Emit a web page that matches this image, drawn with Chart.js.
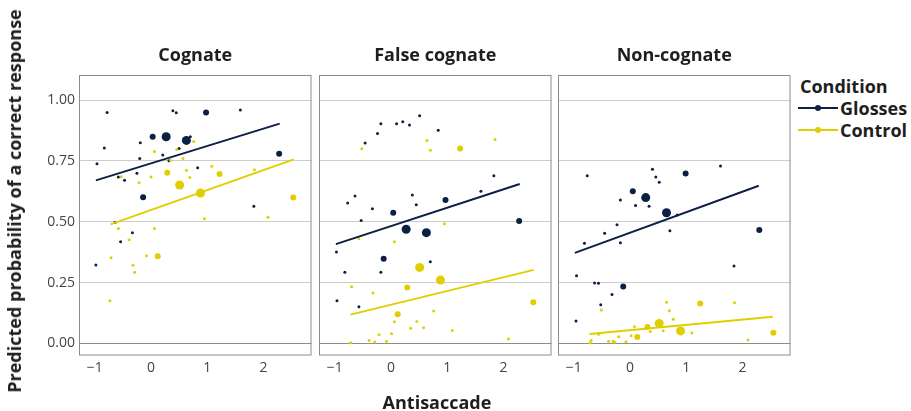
<!DOCTYPE html>
<html>
<head>
<meta charset="utf-8">
<script src="https://cdn.jsdelivr.net/npm/chart.js@4.4.1/dist/chart.umd.min.js"></script>
<style>
  body { margin: 0; background: #fff; }
  #wrap { position: relative; width: 911px; height: 411px; overflow: hidden; font-family: "Open Sans", sans-serif; color: #1e1e1e; }
  canvas { position: absolute; top: 0; }
  .lbl { position: absolute; font-weight: bold; font-size: 18px; line-height: 20px; white-space: nowrap; }
  .key { position: absolute; width: 40px; height: 2px; }
  .key span { position: absolute; left: 17px; top: -2px; width: 6px; height: 6px; border-radius: 50%; }
</style>
</head>
<body>
<div id="wrap">
  <canvas id="p1" width="316" height="411" style="left:0px"></canvas>
  <canvas id="p2" width="257" height="411" style="left:299px"></canvas>
  <canvas id="p3" width="257" height="411" style="left:538px"></canvas>

  <div class="lbl" id="ytitle" style="left:14px; top:201px; transform: translate(-50%, -50%) rotate(-90deg);">Predicted probability of a correct response</div>
  <div class="lbl" style="left:437px; top:392px; transform: translateX(-50%);">Antisaccade</div>

  <div class="lbl" style="left:800px; top:76px;">Condition</div>
  <div class="key" style="left:798px; top:107px; background:#0c2044;"><span style="background:#0c2044"></span></div>
  <div class="lbl" style="left:840px; top:98px;">Glosses</div>
  <div class="key" style="left:798px; top:129px; background:#e0cf00;"><span style="background:#e0cf00"></span></div>
  <div class="lbl" style="left:840px; top:120px;">Control</div>
</div>

<script>
// facet titles
var facets = ['Cognate', 'False cognate', 'Non-cognate'];

// x ranges of the fitted lines
var glossesRange = [-0.98, 2.29];
var controlRange = [-0.72, 2.54];

// Cognate
var cogGlossX = [-0.78,-0.83,-0.96,-0.58,-0.47,-0.25,-0.19,-0.20,0.03,0.27,0.39,0.45,0.21,0.32,0.50,0.63,0.70,0.98,0.83,1.59,2.28,1.83,-0.14,-0.64,-0.33,-0.54,-0.98];
var cogGlossY = [0.949,0.803,0.738,0.684,0.670,0.699,0.825,0.760,0.849,0.849,0.956,0.948,0.774,0.751,0.801,0.834,0.849,0.949,0.722,0.959,0.779,0.563,0.601,0.497,0.455,0.418,0.322];
var cogGlossN = [1,1,1,1,1,1,1,1,4,9,1,1,1,1,1,9,1,4,1,1,4,1,4,1,1,1,1];
var cogCtrlX = [0.76,0.06,0.46,0.35,0.57,-0.53,-0.21,0.00,0.29,0.63,0.69,1.08,1.22,0.51,0.88,1.84,2.53,0.95,2.08,-0.58,0.06,-0.39,-0.71,-0.08,0.12,-0.32,-0.29,-0.73];
var cogCtrlY = [0.830,0.789,0.797,0.753,0.760,0.685,0.660,0.684,0.701,0.711,0.682,0.728,0.696,0.651,0.618,0.714,0.599,0.512,0.518,0.472,0.472,0.426,0.352,0.360,0.358,0.321,0.292,0.175];
var cogCtrlN = [1,1,1,1,1,1,1,1,4,1,1,1,4,9,9,1,4,1,1,1,1,1,1,1,4,1,1,1];
var cogGlossFit = [0.670, 0.903];
var cogCtrlFit = [0.489, 0.756];

// False cognate
var falGlossX = [0.51,-0.18,0.10,0.21,0.33,-0.24,-0.46,0.84,1.83,1.60,0.97,-0.64,-0.77,0.38,0.45,-0.33,0.04,-0.53,2.28,0.27,0.63,-0.97,-0.13,0.70,-0.82,-0.18,-0.96,-0.57];
var falGlossY = [0.935,0.903,0.903,0.911,0.897,0.863,0.823,0.876,0.689,0.625,0.589,0.606,0.577,0.610,0.570,0.553,0.537,0.505,0.503,0.469,0.455,0.375,0.348,0.335,0.292,0.292,0.175,0.150];
var falGlossN = [1,1,1,1,1,1,1,1,1,1,4,1,1,1,1,1,4,1,4,9,9,1,4,1,1,1,1,1];
var falCtrlX = [-0.52,0.64,0.70,1.23,1.85,0.95,-0.57,0.06,0.51,0.88,0.29,-0.70,-0.32,2.53,0.12,0.76,0.06,0.46,0.35,0.58,1.09,-0.21,0.01,-0.39,-0.29,-0.08,-0.72,2.09];
var falCtrlY = [0.800,0.834,0.794,0.801,0.838,0.492,0.430,0.418,0.312,0.260,0.230,0.233,0.207,0.169,0.120,0.133,0.089,0.090,0.062,0.064,0.053,0.035,0.039,0.012,0.005,0.009,0.002,0.018];
var falCtrlN = [1,1,1,4,1,1,1,1,9,9,4,1,1,4,4,1,1,1,1,1,1,1,1,1,1,1,1,1];
var falGlossFit = [0.408, 0.655];
var falCtrlFit = [0.118, 0.302];

// Non-cognate
var nonGlossX = [-0.76,0.40,0.46,0.52,0.99,1.61,0.05,0.28,-0.17,0.10,0.34,0.65,0.84,-0.23,-0.45,0.71,2.30,-0.81,-0.17,1.85,-0.95,-0.63,-0.56,-0.12,-0.32,-0.52,-0.96];
var nonGlossY = [0.689,0.716,0.684,0.662,0.698,0.729,0.625,0.599,0.589,0.567,0.564,0.537,0.528,0.487,0.452,0.463,0.466,0.411,0.413,0.318,0.278,0.248,0.247,0.234,0.201,0.159,0.092];
var nonGlossN = [1,1,1,1,4,1,4,9,1,1,1,9,1,1,1,1,4,1,1,1,1,1,1,4,1,1,1];
var nonCtrlX = [0.65,1.25,1.86,-0.51,0.70,0.77,0.52,0.31,0.08,0.36,0.59,0.90,1.10,2.55,0.13,0.02,-0.20,-0.56,-0.69,-0.38,-0.30,-0.27,-0.07,-0.71,2.10];
var nonCtrlY = [0.169,0.164,0.167,0.137,0.134,0.099,0.082,0.067,0.068,0.049,0.052,0.051,0.042,0.044,0.026,0.031,0.027,0.037,0.012,0.009,0.009,0.004,0.007,0.002,0.014];
var nonCtrlN = [1,4,1,1,1,1,9,4,1,1,1,9,1,4,4,1,1,1,1,1,1,1,1,1,1];
var nonGlossFit = [0.372, 0.648];
var nonCtrlFit = [0.038, 0.109];

var NAVY = '#0c2044';
var GOLD = '#e0cf00';
var FONT = 'Open Sans';

function pts(xs, ys) {
    return xs.map(function(x, i) { return {x: x, y: ys[i]}; });
}

// groesse der punkte aus der anzahl
function radii(ns) {
    return ns.map(function(n) { return 1.5 * Math.sqrt(n); });
}

// rahmen um jedes panel
var panelBox = {
    id: 'panelBox',
    afterDraw: function(chart) {
        var a = chart.chartArea, c = chart.ctx;
        c.save();
        c.strokeStyle = '#8c8c8c';
        c.lineWidth = 1;
        c.strokeRect(a.left + 0.5, a.top + 0.5, a.right - a.left - 1, a.bottom - a.top - 1);
        c.restore();
    }
};

function makePanel(id, title, gx, gy, gn, cx, cy, cn, gFit, cFit, showY) {
    new Chart(document.getElementById(id), {
        type: 'scatter',
        data: {
            datasets: [
                {type: 'line', data: pts(glossesRange, gFit), borderColor: NAVY, borderWidth: 2, pointRadius: 0, fill: false},
                {type: 'line', data: pts(controlRange, cFit), borderColor: GOLD, borderWidth: 2, pointRadius: 0, fill: false},
                {data: pts(cx, cy), backgroundColor: GOLD, borderWidth: 0, pointRadius: radii(cn)},
                {data: pts(gx, gy), backgroundColor: NAVY, borderWidth: 0, pointRadius: radii(gn)}
            ]
        },
        options: {
            responsive: false,
            animation: false,
            layout: {padding: 0},
            plugins: {
                legend: {display: false},
                tooltip: {enabled: false},
                title: {
                    display: true,
                    fullSize: false,
                    text: title,
                    color: '#1e1e1e',
                    font: {family: FONT, size: 18, weight: 'bold'},
                    padding: {top: 45, bottom: 8.4}
                }
            },
            scales: {
                x: {
                    type: 'linear',
                    min: -1.28,
                    max: 2.855,
                    grid: {display: false, drawTicks: false},
                    border: {display: false},
                    ticks: {
                        stepSize: 1,
                        includeBounds: false,
                        padding: 4,
                        color: '#444',
                        font: {family: FONT, size: 14},
                        callback: function(v) { return (v < 0 ? '\u2212' : '') + Math.abs(v); }
                    },
                    afterFit: function(s) { s.height = 55.5; }
                },
                y: {
                    min: -0.05,
                    max: 1.103,
                    grid: {
                        drawTicks: false,
                        lineWidth: 1,
                        color: function(ctx) { return ctx.tick && ctx.tick.value === 0 ? '#8c8c8c' : '#cccccc'; }
                    },
                    border: {display: false},
                    ticks: {
                        display: showY,
                        stepSize: 0.25,
                        includeBounds: false,
                        padding: 4,
                        color: '#444',
                        font: {family: FONT, size: 14},
                        callback: function(v) { return v.toFixed(2); }
                    },
                    afterFit: function(s) { s.width = showY ? 79 : 20; }
                }
            }
        },
        plugins: [panelBox]
    });
}

makePanel('p1', facets[0], cogGlossX, cogGlossY, cogGlossN, cogCtrlX, cogCtrlY, cogCtrlN, cogGlossFit, cogCtrlFit, true);
makePanel('p2', facets[1], falGlossX, falGlossY, falGlossN, falCtrlX, falCtrlY, falCtrlN, falGlossFit, falCtrlFit, false);
makePanel('p3', facets[2], nonGlossX, nonGlossY, nonGlossN, nonCtrlX, nonCtrlY, nonCtrlN, nonGlossFit, nonCtrlFit, false);
</script>
</body>
</html>
